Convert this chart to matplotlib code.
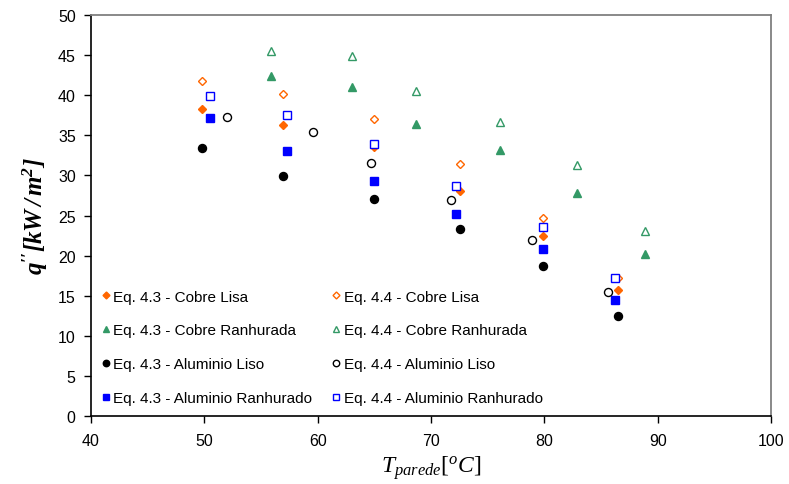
import matplotlib
matplotlib.use("Agg")
import matplotlib.pyplot as plt

# ---- data ----
x_cl43 = [49.8, 56.9, 65.0, 72.6, 79.9, 86.5]
y_cl43 = [38.3, 36.3, 33.5, 28.1, 22.5, 15.7]
x_cl44 = [49.8, 56.9, 65.0, 72.6, 79.9, 86.5]
y_cl44 = [41.8, 40.2, 37.0, 31.4, 24.7, 17.25]

x_cr43 = [55.9, 63.05, 68.7, 76.1, 82.9, 88.9]
y_cr43 = [42.4, 41.0, 36.4, 33.2, 27.8, 20.2]
x_cr44 = [55.9, 63.05, 68.7, 76.1, 82.9, 88.9]
y_cr44 = [45.55, 44.9, 40.5, 36.7, 31.3, 23.1]

x_al43 = [49.8, 56.9, 65.0, 72.6, 79.9, 86.5]
y_al43 = [33.45, 29.95, 27.1, 23.3, 18.75, 12.5]
x_al44 = [52.0, 59.6, 64.7, 71.8, 78.9, 85.6]
y_al44 = [37.3, 35.4, 31.5, 26.9, 21.9, 15.4]

x_ar43 = [50.5, 57.3, 65.0, 72.2, 79.9, 86.2]
y_ar43 = [37.2, 33.0, 29.3, 25.2, 20.8, 14.5]
x_ar44 = [50.5, 57.3, 65.0, 72.2, 79.9, 86.2]
y_ar44 = [39.85, 37.5, 33.95, 28.7, 23.6, 17.25]

labels = ["Eq. 4.3 - Cobre Lisa", "Eq. 4.3 - Cobre Ranhurada",
          "Eq. 4.3 - Aluminio Liso", "Eq. 4.3 - Aluminio Ranhurado",
          "Eq. 4.4 - Cobre Lisa", "Eq. 4.4 - Cobre Ranhurada",
          "Eq. 4.4 - Aluminio Liso", "Eq. 4.4 - Aluminio Ranhurado"]

orange = "#FF6600"
green = "#339966"
blue = "#0000FF"
black = "#000000"

plt.rcParams['font.family'] = ['Liberation Sans', 'DejaVu Sans']
plt.rcParams['mathtext.fontset'] = 'custom'
plt.rcParams['mathtext.rm'] = 'Liberation Serif'
plt.rcParams['mathtext.it'] = 'Liberation Serif:italic'
plt.rcParams['mathtext.bf'] = 'Liberation Serif:bold:italic'

fig = plt.figure(figsize=(7.89, 4.85), dpi=100)
ax = fig.add_axes([91/789, 1-417/485, 680/789, 401/485])

ms = 5.5
ax.plot(x_cl43, y_cl43, ls='none', marker='D', ms=ms*0.8, color=orange, mec=orange, label=labels[0])
ax.plot(x_cr43, y_cr43, ls='none', marker='^', ms=ms*1.05, color=green, mec=green, label=labels[1])
ax.plot(x_al43, y_al43, ls='none', marker='o', ms=ms*1.05, color=black, mec=black, label=labels[2])
ax.plot(x_ar43, y_ar43, ls='none', marker='s', ms=ms*1.0, color=blue, mec=blue, label=labels[3])
ax.plot(x_cl44, y_cl44, ls='none', marker='D', ms=ms*0.8, mfc='white', mec=orange, mew=1, label=labels[4])
ax.plot(x_cr44, y_cr44, ls='none', marker='^', ms=ms*1.05, mfc='white', mec=green, mew=1, label=labels[5])
ax.plot(x_al44, y_al44, ls='none', marker='o', ms=ms*1.05, mfc='white', mec=black, mew=1, label=labels[6])
ax.plot(x_ar44, y_ar44, ls='none', marker='s', ms=ms*1.0, mfc='white', mec=blue, mew=1, label=labels[7])

ax.set_xlim(40, 100)
ax.set_ylim(0, 50)
ax.set_xticks(range(40, 101, 10))
ax.set_yticks(range(0, 51, 5))
ax.tick_params(axis='both', direction='out', length=5, width=1, labelsize=11.5, colors='black')
ax.tick_params(axis='x', pad=7)
ax.tick_params(axis='y', pad=6)
for s in ['top', 'right']:
    ax.spines[s].set_color('#808080')
    ax.spines[s].set_linewidth(1.3)
for s in ['left', 'bottom']:
    ax.spines[s].set_color('black')
    ax.spines[s].set_linewidth(1.2)

ax.set_xlabel(r"$T_{parede}[^{o}C]$", fontsize=17, labelpad=4)
ax.set_ylabel(r"$\mathbf{q''[kW\,/\,m^{2}]}$", fontsize=18, labelpad=6)

leg = ax.legend(ncol=2, loc='lower left', bbox_to_anchor=(0.005, 0.008),
                frameon=False, fontsize=11, handlelength=0.5, handletextpad=0.25,
                labelspacing=1.3, columnspacing=1.3, borderpad=0, markerscale=0.8)

fig.savefig("out.png", dpi=100)
